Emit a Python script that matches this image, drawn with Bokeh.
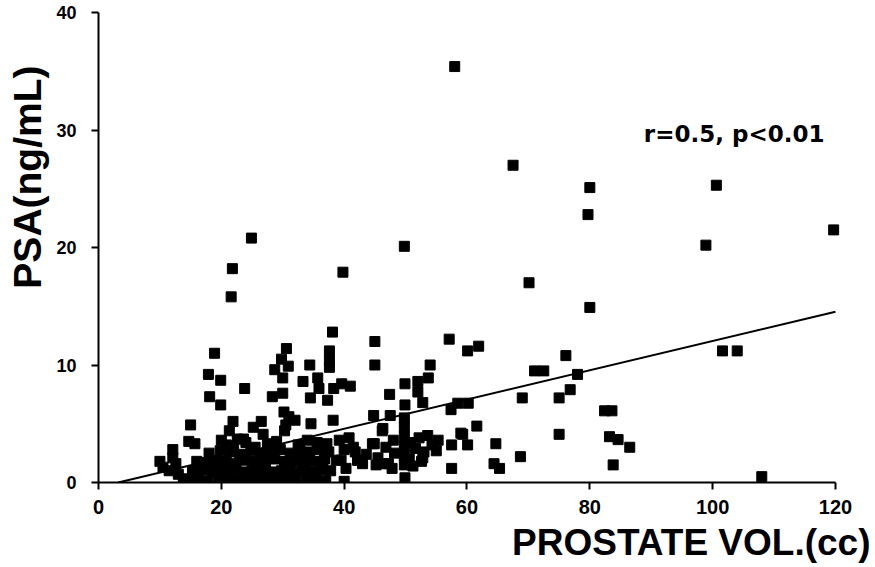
from bokeh.plotting import figure
from bokeh.models import Label, ColumnDataSource, FixedTicker, Range1d, Title
from bokeh.embed import file_html
from bokeh.resources import INLINE

# ---- data ----
# sparse high / right points
vol_a = [58.0, 67.5, 80.0, 79.7, 24.9, 49.8, 21.8, 39.8, 70.1, 21.6, 80.0, 100.6, 119.7, 98.9,
         101.6, 104.0, 82.4, 83.6, 83.2, 84.6, 86.5, 83.8, 108.0]
psa_a = [35.4, 27.0, 25.1, 22.8, 20.8, 20.1, 18.2, 17.9, 17.0, 15.8, 14.9, 25.3, 21.5, 20.2,
         11.2, 11.2, 6.1, 6.1, 3.9, 3.65, 3.0, 1.5, 0.5]
# middle band
vol_b = [38.1, 45.0, 57.1, 60.1, 61.9, 76.1, 45.0, 54.0, 71.0, 72.5, 78.0, 53.7, 49.9, 52.0,
         39.6, 41.0, 38.3, 47.4, 52.0, 76.8, 69.0, 75.0, 49.9, 52.8, 58.5, 60.2, 57.4, 44.8,
         47.5, 38.2, 46.3, 49.8, 49.8, 49.8, 49.8, 49.8, 49.8, 61.6, 59.3, 75.0, 57.5, 60.1,
         64.7, 68.7, 64.4, 65.3, 57.5, 49.9, 40.0]
psa_b = [12.8, 12.0, 12.2, 11.2, 11.6, 10.8, 10.0, 10.0, 9.5, 9.5, 9.2, 8.9, 8.4, 8.6,
         8.4, 8.2, 8.0, 7.5, 7.7, 7.9, 7.2, 7.2, 6.6, 6.8, 6.75, 6.75, 6.2, 5.7,
         5.7, 5.3, 4.6, 5.5, 4.7, 3.9, 3.1, 2.3, 1.5, 4.8, 4.1, 4.1, 3.2, 3.2,
         3.3, 2.2, 1.6, 1.2, 1.2, 0.4, 0.1]
# clusters 38-56 cc
vol_c = [39.2, 40.0, 39.5, 40.3, 41.5, 42.2, 43.0, 40.8, 44.6, 45.5, 46.2, 46.8, 47.2, 48.2,
         48.0, 45.2, 50.8, 50.6, 51.2, 52.2, 53.0, 53.6, 54.3, 55.0, 52.6, 55.3, 59.0, 52.8,
         46.6, 44.9, 42.2, 38.7, 41.8, 43.6, 47.8, 51.6]
psa_c = [3.6, 2.8, 1.9, 1.2, 3.0, 1.9, 1.6, 3.8, 3.3, 2.1, 4.4, 3.0, 1.6, 2.5,
         3.6, 1.5, 3.4, 2.0, 1.4, 3.8, 2.6, 4.0, 3.2, 2.7, 1.8, 3.6, 4.2, 2.1,
         1.6, 3.3, 1.9, 1.9, 2.6, 2.4, 1.2, 2.9]
# left part, 10-38 cc
vol_d = [18.9, 30.6, 29.8, 30.9, 37.6, 37.6, 37.6, 34.4, 28.7, 17.9, 19.9, 30.0, 33.3, 35.7,
         23.8, 18.1, 19.9, 28.3, 30.0, 35.9, 34.5, 37.3, 30.2, 31.0, 32.0, 30.5, 30.3, 34.6,
         15.0, 21.9, 26.5, 25.2, 26.8, 21.3, 22.6, 23.6, 20.0, 20.8, 14.7, 15.7, 12.1, 12.1,
         10.0, 10.5, 11.5, 13.0, 13.8, 12.6]
psa_d = [11.0, 11.4, 10.5, 9.9, 11.2, 10.4, 9.8, 10.0, 9.6, 9.2, 8.7, 8.9, 8.6, 8.9,
         8.0, 7.3, 6.6, 7.3, 7.6, 8.0, 7.2, 7.0, 6.0, 5.6, 5.3, 4.9, 4.4, 5.0,
         4.9, 5.2, 5.2, 4.7, 4.1, 4.4, 3.7, 3.7, 3.6, 3.2, 3.5, 3.3, 2.8, 2.1,
         1.8, 1.3, 1.0, 0.7, 0.3, 1.6]
# dense block near the x axis
vol_e = [14.5, 16.2, 17.8, 19.5, 21.0, 22.6, 24.1, 25.8, 27.3, 29.0, 30.6, 32.1, 33.8, 35.4, 37.0,
         15.3, 17.0, 18.6, 20.2, 21.8, 23.4, 25.0, 26.5, 28.1, 29.8, 31.3, 33.0, 34.6, 36.2, 37.8,
         16.0, 17.5, 19.2, 20.8, 22.4, 24.0, 25.6, 27.2, 28.7, 30.3, 31.9, 33.5, 35.1, 36.8,
         18.0, 19.8, 21.5, 23.2, 24.8, 26.4, 28.0, 29.6, 31.2, 32.8, 34.4, 36.0, 37.5,
         24.0, 27.5, 29.0, 32.5, 34.0, 35.6, 37.2, 21.0, 26.0, 31.8, 36.5, 19.0, 23.0,
         27.8, 33.2, 22.0, 25.5]
psa_e = [0.3, 0.4, 0.2, 0.3, 0.5, 0.3, 0.2, 0.4, 0.3, 0.2, 0.4, 0.3, 0.5, 0.3, 0.2,
         1.0, 1.1, 0.9, 1.0, 1.2, 0.9, 1.0, 1.1, 0.9, 1.0, 1.2, 1.0, 0.9, 1.1, 1.0,
         1.8, 1.7, 1.9, 1.8, 1.6, 1.9, 1.8, 1.7, 2.0, 1.8, 1.9, 1.7, 1.8, 2.0,
         2.5, 2.7, 2.6, 2.4, 2.7, 2.5, 2.6, 2.8, 2.5, 2.7, 2.6, 2.8, 2.6,
         3.4, 3.3, 3.5, 3.2, 3.6, 3.4, 3.3, 0.7, 0.6, 0.7, 1.5, 1.4, 2.2,
         2.2, 2.1, 3.1, 3.0]

prostate_vol = vol_a + vol_b + vol_c + vol_d + vol_e
psa = psa_a + psa_b + psa_c + psa_d + psa_e

fit_slope = 0.1245
fit_intercept = -0.40
fit_x = [3.2, 120.0]

x_ticks = [0, 20, 40, 60, 80, 100, 120]
y_ticks = [0, 10, 20, 30, 40]
stat_text = "r=0.5, p<0.01"
x_title = "PROSTATE VOL.(cc)"
y_title = "PSA(ng/mL)"

# ---- figure ----
p = figure(width=872, height=565, output_backend="svg", toolbar_location=None,
           x_range=Range1d(0, 125.7), y_range=Range1d(0, 40),
           min_border_left=97, min_border_right=2, min_border_top=12, min_border_bottom=79)
p.outline_line_color = None
p.xgrid.visible = False
p.ygrid.visible = False
p.background_fill_color = "white"
p.border_fill_color = "white"

for ax in (p.xaxis[0], p.yaxis[0]):
    ax.axis_line_color = "black"
    ax.axis_line_width = 2
    ax.major_tick_line_color = "black"
    ax.major_tick_line_width = 2
    ax.major_tick_in = 0
    ax.major_tick_out = 7
    ax.minor_tick_line_color = None
    ax.major_label_text_font = "Liberation Sans"
    ax.major_label_text_font_style = "bold"
    ax.major_label_text_color = "black"

p.xaxis.bounds = (0, 120)
p.xaxis.ticker = FixedTicker(ticks=x_ticks)
p.yaxis.ticker = FixedTicker(ticks=y_ticks)
p.xaxis.major_label_text_font_size = "20px"
p.xaxis.major_label_standoff = 10
p.yaxis.major_label_text_font_size = "18px"
p.yaxis.major_label_standoff = 15

src = ColumnDataSource(dict(x=prostate_vol, y=psa))
p.scatter("x", "y", source=src, marker="square", size=10,
          fill_color="black", line_color="black")

fit_y = [fit_slope * fx + fit_intercept for fx in fit_x]
p.line(fit_x, fit_y, line_color="black", line_width=2)

p.add_layout(Label(x=88.8, y=29.65, text=stat_text, text_font="DejaVu Sans",
                   text_font_style="bold", text_font_size="23px", text_color="black",
                   text_align="left", text_baseline="alphabetic"))

p.add_layout(Title(text=x_title, align="right", offset=0, standoff=6,
                   text_font="Liberation Sans", text_font_style="bold",
                   text_font_size="37px", text_color="black"), "below")
p.add_layout(Title(text=y_title, align="right", offset=53, standoff=8,
                   vertical_align="middle",
                   text_font="Liberation Sans", text_font_style="bold",
                   text_font_size="39px", text_color="black"), "left")

open("out.html", "w").write(file_html(p, INLINE))
